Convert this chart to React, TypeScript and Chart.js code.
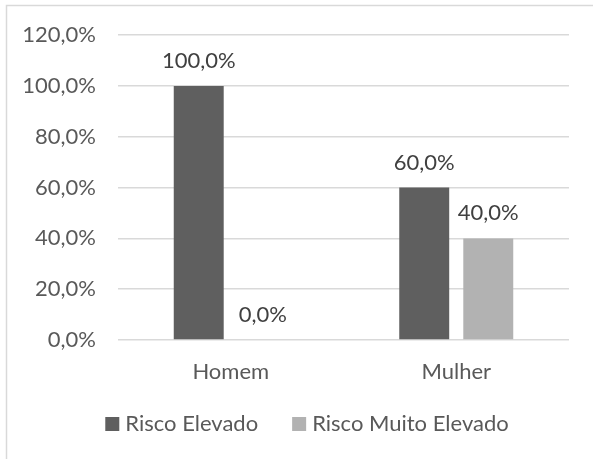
import React, { useEffect, useRef } from "react";
import { Chart, registerables } from "chart.js";

Chart.register(...registerables);

const categories: string[] = ["Homem", "Mulher"];
const seriesNames: string[] = ["Risco Elevado", "Risco Muito Elevado"];
const riscoElevado: number[] = [100, 60];
const riscoMuitoElevado: number[] = [0, 40];
const seriesColors: string[] = ["#5f5f5f", "#b2b2b2"];
const yTicks: number[] = [0, 20, 40, 60, 80, 100, 120];

const FONT = "Lato, 'Open Sans', sans-serif";
const FS = 22;
const fmt = (v: number) => v.toFixed(1).replace(".", ",") + "%";

const framePlugin = {
  id: "frame",
  beforeDraw(chart: any) {
    const ctx = chart.ctx;
    ctx.save();
    ctx.strokeStyle = "#d9d9d9";
    ctx.lineWidth = 1.5;
    ctx.beginPath();
    ctx.moveTo(6.5, 470);
    ctx.lineTo(6.5, 5.5);
    ctx.lineTo(600, 5.5);
    ctx.stroke();
    ctx.restore();
  },
};

const dataLabelPlugin = {
  id: "dataLabels",
  afterDatasetsDraw(chart: any) {
    const ctx = chart.ctx;
    ctx.save();
    ctx.font = `${FS}px ${FONT}`;
    ctx.fillStyle = "#404040";
    ctx.textAlign = "center";
    ctx.textBaseline = "alphabetic";
    chart.data.datasets.forEach((ds: any, i: number) => {
      const meta = chart.getDatasetMeta(i);
      meta.data.forEach((bar: any, j: number) => {
        ctx.fillText(fmt(ds.data[j]), bar.x, bar.y - 18);
      });
    });
    ctx.restore();
  },
};

const legendPlugin = {
  id: "customLegend",
  afterDraw(chart: any) {
    const ctx = chart.ctx;
    ctx.save();
    ctx.font = `${FS}px ${FONT}`;
    ctx.textBaseline = "alphabetic";
    ctx.textAlign = "left";
    const box = 14;
    const gap = 6;
    const spacing = 34;
    const widths = seriesNames.map((n) => box + gap + ctx.measureText(n).width);
    const total = widths.reduce((a, b) => a + b, 0) + spacing * (widths.length - 1);
    let x = 307 - total / 2;
    const baseline = 431;
    seriesNames.forEach((n, i) => {
      ctx.fillStyle = seriesColors[i];
      ctx.fillRect(x, baseline - 14, box, box);
      ctx.fillStyle = "#595959";
      ctx.fillText(n, x + box + gap, baseline);
      x += widths[i] + spacing;
    });
    ctx.restore();
  },
};

export default function App() {
  const ref = useRef<HTMLCanvasElement | null>(null);
  useEffect(() => {
    if (!ref.current) return;
    const chart = new Chart(ref.current, {
      type: "bar",
      data: {
        labels: categories,
        datasets: [
          {
            label: seriesNames[0],
            data: riscoElevado,
            backgroundColor: seriesColors[0],
            categoryPercentage: 0.568,
            barPercentage: 0.78,
          },
          {
            label: seriesNames[1],
            data: riscoMuitoElevado,
            backgroundColor: seriesColors[1],
            categoryPercentage: 0.568,
            barPercentage: 0.78,
          },
        ],
      },
      options: {
        responsive: false,
        animation: false,
        layout: { padding: { top: 35, right: 24, left: 0, bottom: 0 } },
        plugins: {
          legend: { display: false },
          tooltip: { enabled: false },
        },
        scales: {
          x: {
            grid: { display: false, drawTicks: false },
            border: { display: false },
            ticks: {
              padding: 19,
              color: "#595959",
              font: { family: FONT, size: FS },
            },
            afterFit(scale: any) {
              scale.height = 119;
            },
          },
          y: {
            min: 0,
            max: 120,
            afterBuildTicks(scale: any) {
              scale.ticks = yTicks.map((v) => ({ value: v }));
            },
            grid: { color: "#d9d9d9", lineWidth: 1.5, drawTicks: false },
            border: { display: false },
            ticks: {
              padding: 22,
              color: "#595959",
              font: { family: FONT, size: FS },
              callback: (v: any) => fmt(Number(v)),
            },
            afterFit(scale: any) {
              scale.width = 118;
            },
          },
        },
      },
      plugins: [framePlugin, dataLabelPlugin, legendPlugin],
    });
    return () => chart.destroy();
  }, []);
  return (
    <div style={{ position: "absolute", left: 0, top: 0, width: 593, height: 459, background: "#fff" }}>
      <canvas ref={ref} width={593} height={459} />
    </div>
  );
}
